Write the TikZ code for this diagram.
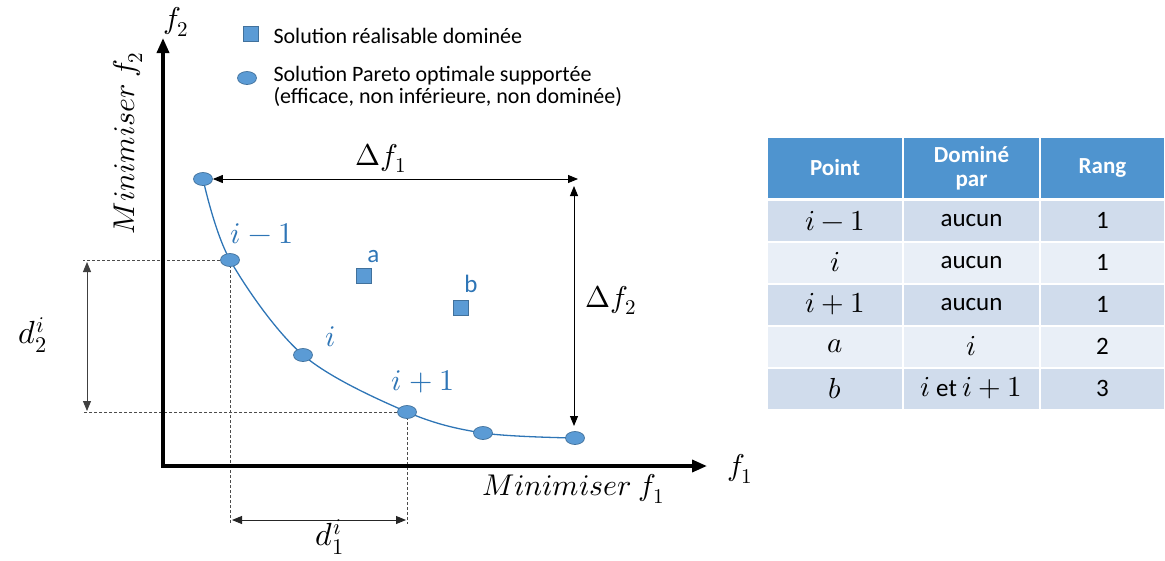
\documentclass[tikz,border=0pt]{standalone}
\usepackage{fontspec}
\setmainfont{Carlito}
\usepackage{unicode-math}
\setmathfont{Latin Modern Math}
\usetikzlibrary{positioning,arrows.meta,shapes.geometric,backgrounds}
\definecolor{ptblue}{HTML}{5B9BD5}
\definecolor{ptedge}{HTML}{41719C}
\definecolor{curveblue}{HTML}{2E75B6}
\definecolor{hdrblue}{HTML}{4F94CF}
\definecolor{rowdark}{HTML}{D0DCEC}
\definecolor{rowlight}{HTML}{E9EFF7}
\newcommand{\cellmath}[1]{{\fontsize{29}{30}\selectfont$#1$}}

\begin{document}
\begin{tikzpicture}[x=1pt,y=-1pt,
    axis/.style={line width=3.5pt,{Triangle[length=15pt,width=12pt]}-{Triangle[length=15pt,width=12pt]}},
    dimarr/.style={line width=0.9pt,{Triangle[length=10pt,width=8pt]}-{Triangle[length=10pt,width=8pt]}},
    guide/.style={densely dashed,line width=0.6pt,black!70},
    ptsol/.style={ellipse,fill=ptblue,draw=ptedge,line width=0.7pt,minimum width=19pt,minimum height=13pt,inner sep=0pt},
    ptdom/.style={rectangle,fill=ptblue,draw=ptedge,line width=0.7pt,minimum size=15pt,inner sep=0pt},
    bluelbl/.style={text=curveblue,font=\fontsize{30}{32}\selectfont},
    mathlbl/.style={font=\fontsize{30}{32}\selectfont},
    legtxt/.style={font=\fontsize{22}{22}\selectfont,anchor=west,align=left},
    cell/.style={draw=white,line width=2pt,minimum height=42pt,font=\fontsize{25}{26}\selectfont,inner sep=0pt},
    hdr/.style={cell,fill=hdrblue,text=white,minimum height=62pt,align=center,font=\fontsize{23}{24}\selectfont\bfseries}]

  \useasboundingbox (0,0) rectangle (1165,560);

  % axes
  \coordinate (o) at (163,466);
  \coordinate (ytop) at (163,38);
  \coordinate (xend) at (707,466);
  \draw[axis] (ytop) -- (o) -- (xend);
  \node[mathlbl] (f2) at (176,22) {$f_2$};
  \node[mathlbl] (f1) at (740,469) {$f_1$};
  \node[mathlbl,rotate=90] (min2) at (128,143) {$Minimiser\ f_2$};
  \node[mathlbl] (min1) at (573,489) {$Minimiser\ f_1$};

  % legend
  \node[ptdom] (legsq) at (251,34) {};
  \node[legtxt] (legsqt) at (270,36) {Solution réalisable dominée};
  \node[ptsol] (legpt) at (247,78) {};
  \node[legtxt,anchor=north west] (legptt) at (270,63) {Solution Pareto optimale supportée\\(efficace, non inférieure, non dominée)};

  % Pareto front
  \node[ptsol] (p1) at (203,179) {};
  \node[ptsol] (p2) at (230,260) {};
  \node[ptsol] (p3) at (303,355) {};
  \node[ptsol] (p4) at (407,412) {};
  \node[ptsol] (p5) at (483,433) {};
  \node[ptsol] (p6) at (575,438) {};
  \node[ptdom] (sqa) at (364,276) {};
  \node[ptdom] (sqb) at (461,308) {};

  \begin{scope}[on background layer]
    \draw[curveblue,line width=1.3pt] plot[smooth,tension=0.55] coordinates {(p1.center) (p2.center) (p3.center) (p4.center) (p5.center) (p6.center)};
    \coordinate (g2l) at (83,260);
    \coordinate (g4l) at (83,412);
    \coordinate (g2b) at (230,524);
    \coordinate (g4b) at (407,524);
    \draw[guide] (p2.center) -- (g2l);
    \draw[guide] (p4.center) -- (g4l);
    \draw[guide] (p2.center) -- (g2b);
    \draw[guide] (p4.center) -- (g4b);
  \end{scope}

  \node[bluelbl] (lp2) at (262,234) {$i-1$};
  \node[bluelbl] (lp3) at (331,337) {$i$};
  \node[bluelbl] (lp4) at (423,382) {$i+1$};
  \node[bluelbl,font=\fontsize{25}{26}\selectfont,above right=2pt and -8pt of sqa] (la) {a};
  \node[bluelbl,font=\fontsize{25}{26}\selectfont,above right=4pt and -8pt of sqb] (lb) {b};

  % ranges
  \coordinate (dfr) at (578,179);
  \coordinate (dft) at (574,186);
  \coordinate (dfb) at (574,426);
  \draw[dimarr] (p1) -- (dfr);
  \draw[dimarr] (dft) -- (dfb);
  \node[mathlbl] (df1) at (381,158) {$\Delta f_1$};
  \node[mathlbl] (df2) at (611,300) {$\Delta f_2$};

  % crowding distances
  \coordinate (d2t) at (87,262);
  \coordinate (d2b) at (87,411);
  \coordinate (d1l) at (232,520);
  \coordinate (d1r) at (406,520);
  \draw[dimarr,black!75] (d2t) -- (d2b);
  \draw[dimarr,black!85] (d1l) -- (d1r);
  \node[mathlbl,font=\fontsize{32}{34}\selectfont] (d2) at (33,335) {$d_2^i$};
  \node[mathlbl,font=\fontsize{32}{34}\selectfont] (d1) at (330,537) {$d_1^i$};

  % table
  \node[hdr,minimum width=136pt] (hpoint) at (835,168) {Point};
  \node[hdr,minimum width=137pt] (hdom) at (971.5,168) {Dominé\\par};
  \node[hdr,minimum width=125pt] (hrang) at (1102.5,168) {Rang};
  \foreach \pt/\dom/\rg/\bg [count=\r] in {\cellmath{i-1}/aucun/1/rowdark, \cellmath{i}/aucun/1/rowlight, \cellmath{i+1}/aucun/1/rowdark, \cellmath{a}/\cellmath{i}/2/rowlight, \cellmath{b}/{\cellmath{i} et \cellmath{i+1}}/3/rowdark}{
    \node[cell,fill=\bg,minimum width=136pt] (c\r-1) at (835,{178.5+42*\r}) {\pt};
    \node[cell,fill=\bg,minimum width=137pt] (c\r-2) at (971.5,{178.5+42*\r}) {\dom};
    \node[cell,fill=\bg,minimum width=125pt] (c\r-3) at (1102.5,{178.5+42*\r}) {\rg};
  }
\end{tikzpicture}
\end{document}
